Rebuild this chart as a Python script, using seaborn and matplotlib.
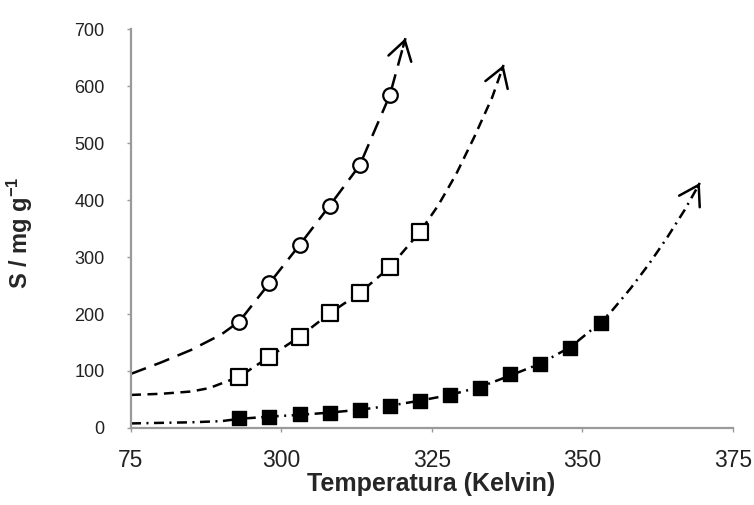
import matplotlib
matplotlib.use("Agg")
import matplotlib.pyplot as plt
import seaborn as sns

t_circulos = [293, 298, 303, 308, 313, 318]
s_circulos = [186, 254, 321, 390, 461, 584]

t_cuadros = [293, 298, 303, 308, 313, 318, 323]
s_cuadros = [90, 125, 160, 201, 237, 282, 344]

t_llenos = [293, 298, 303, 308, 313, 318, 323, 328, 333, 338, 343, 348, 353]
s_llenos = [18, 20, 24, 27, 31, 39, 48, 58, 71, 94, 112, 141, 185]

# Curvas de tendencia (terminan en flecha)
t_curva_circ = [275, 280, 285, 290, 293, 298, 303, 308, 313, 318, 320.6]
s_curva_circ = [95, 115, 137, 164, 187, 254, 321, 390, 461, 584, 684]

t_curva_cuad = [275, 280, 285, 288, 290, 293, 298, 303, 308, 313, 318, 323,
                326, 329, 332, 335, 336.9]
s_curva_cuad = [58, 60, 64, 70, 78, 90, 125, 160, 201, 237, 282, 344,
                390, 445, 510, 580, 637]

t_curva_llen = [275, 280, 285, 290, 293, 298, 303, 308, 313, 318, 323, 328,
                333, 338, 343, 348, 353, 355, 358, 361, 364, 367, 369.5]
s_curva_llen = [8, 9, 10, 12, 16, 20, 23, 27, 32, 39, 48, 58,
                72, 92, 113, 142, 185, 207, 245, 287, 333, 383, 430]

x_ticks = [275, 300, 325, 350, 375]
x_tick_labels = ["75", "300", "325", "350", "375"]
y_ticks = [0, 100, 200, 300, 400, 500, 600, 700]

sns.set_style("white")
plt.rcParams["font.family"] = ["Liberation Sans", "DejaVu Sans"]
plt.rcParams["mathtext.fontset"] = "custom"
plt.rcParams["mathtext.rm"] = "Liberation Sans"
plt.rcParams["mathtext.default"] = "regular"

fig = plt.figure(figsize=(7.54, 5.05), dpi=100)
ax = fig.add_axes([0.1737, 0.1525, 0.7984, 0.790])

lw = 1.8
curvas = [
    (t_curva_circ, s_curva_circ, (0, (6.4, 3.6))),
    (t_curva_cuad, s_curva_cuad, (0, (4.0, 2.6))),
    (t_curva_llen, s_curva_llen, (0, (4.0, 2.2, 0.8, 2.2))),
]
for tx, sy, estilo in curvas:
    sns.lineplot(x=tx, y=sy, ax=ax, color="black", lw=lw, linestyle=estilo,
                 sort=False, estimator=None, zorder=2)
    # punta de flecha abierta al final de la curva
    fx = tx[-1] - 0.15 * (tx[-1] - tx[-2])
    fy = sy[-1] - 0.15 * (sy[-1] - sy[-2])
    ax.annotate("", xy=(tx[-1], sy[-1]), xytext=(fx, fy),
                arrowprops=dict(arrowstyle="->,head_length=0.4,head_width=0.25",
                                color="black", lw=lw, mutation_scale=34,
                                shrinkA=0, shrinkB=0))

sns.scatterplot(x=t_circulos, y=s_circulos, ax=ax, marker="o", s=110,
                facecolor="white", edgecolor="black", linewidth=1.6, zorder=3)
sns.scatterplot(x=t_cuadros, y=s_cuadros, ax=ax, marker="s", s=135,
                facecolor="white", edgecolor="black", linewidth=1.6, zorder=3)
sns.scatterplot(x=t_llenos, y=s_llenos, ax=ax, marker="s", s=115,
                facecolor="black", edgecolor="black", linewidth=1.0, zorder=3)

ax.set_xlim(275, 375)
ax.set_ylim(0, 700)
ax.set_xticks(x_ticks)
ax.set_xticklabels(x_tick_labels)
ax.set_yticks(y_ticks)

for lado in ["top", "right"]:
    ax.spines[lado].set_visible(False)
for lado in ["left", "bottom"]:
    ax.spines[lado].set_color("#9a9a9a")
    ax.spines[lado].set_linewidth(1.6)

ax.tick_params(axis="y", direction="out", length=3, width=1, color="#9a9a9a",
               labelsize=13, labelcolor="#222222", pad=16, left=True)
ax.tick_params(axis="x", direction="out", length=3, width=1, color="#9a9a9a",
               labelsize=16.5, labelcolor="#222222", pad=12, bottom=True)

ax.set_xlabel("Temperatura (Kelvin)", fontsize=18, fontweight="bold")
ax.set_ylabel("S / mg g$^{-1}$", fontsize=17, fontweight="bold")
ax.xaxis.set_label_coords(0.498, -0.11)
ax.yaxis.set_label_coords(-0.16, 0.49)

plt.savefig("out.png", dpi=100)
